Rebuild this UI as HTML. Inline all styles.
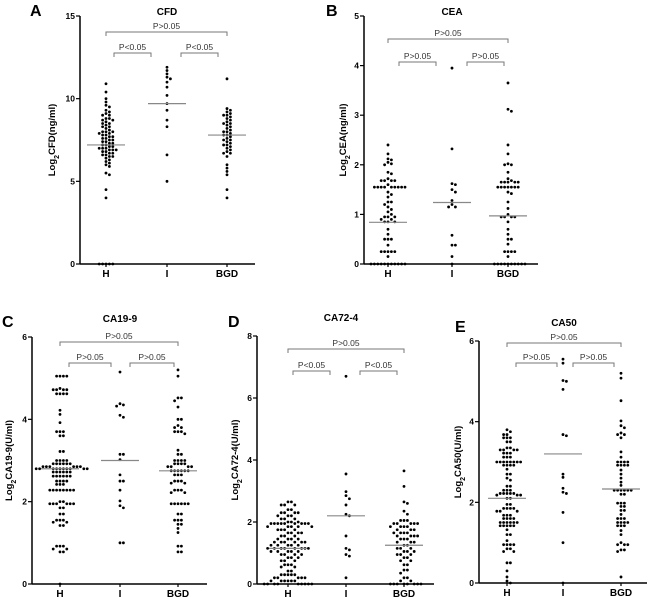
<!DOCTYPE html>
<html><head><meta charset="utf-8"><style>
html,body{margin:0;padding:0;background:#fff;}
svg{display:block;font-family:"Liberation Sans",Arial,sans-serif;}
</style></head><body>
<svg id="chart" width="650" height="597" viewBox="0 0 650 597" xmlns="http://www.w3.org/2000/svg"></svg>
<script>
const categories=["H","I","BGD"];
const panelLetters=["A","B","C","D","E"];
const panelTitles=["CFD","CEA","CA19-9","CA72-4","CA50"];
const yLabels=[["CFD","(ng/ml)"],["CEA","(ng/ml)"],["CA19-9","(U/ml)"],["CA72-4","(U/ml)"],["CA50","(U/ml)"]];
const yMaxes=[15,5,6,8,6];
const yStepsV=[5,1,2,2,2];
const pTop=["P>0.05","P>0.05","P>0.05","P>0.05","P>0.05"];
const pLeft=["P<0.05","P>0.05","P>0.05","P<0.05","P>0.05"];
const pRight=["P<0.05","P>0.05","P>0.05","P<0.05","P>0.05"];
const medians=[[7.2,9.7,7.8],[0.84,1.24,0.97],[2.8,3.0,2.75],[1.15,2.2,1.25],[2.1,3.2,2.33]];

const A_H=[10.9,10.4,10.0,9.8,9.6,9.5,9.3,9.2,9.1,9.0,9.0,8.8,8.8,8.7,8.7,8.6,8.5,8.5,8.4,8.3,8.3,8.2,8.1,8.0,8.0,8.0,7.9,7.9,7.8,7.8,7.7,7.7,7.6,7.6,7.5,7.5,7.4,7.4,7.3,7.3,7.2,7.2,7.1,7.1,7.0,7.0,7.0,6.9,6.9,6.9,6.8,6.8,6.7,6.7,6.6,6.6,6.5,6.5,6.4,6.3,6.2,6.1,6.0,5.9,5.5,5.4,4.5,4.0,0,0,0,0,0];
const A_I=[11.9,11.7,11.5,11.3,11.2,11.0,10.7,10.2,9.7,9.3,8.7,8.3,6.6,5.0];
const A_BGD=[11.2,9.4,9.3,9.2,9.1,9.0,9.0,8.9,8.8,8.7,8.6,8.5,8.5,8.4,8.3,8.2,8.1,8.0,8.0,7.9,7.8,7.8,7.7,7.6,7.5,7.5,7.4,7.3,7.2,7.2,7.1,7.0,6.9,6.8,6.7,6.7,6.5,6.0,5.8,5.6,5.4,4.5,4.0];

const B_H=[2.4,2.22,2.12,2.1,2.05,2.02,2.0,1.85,1.82,1.72,1.68,1.68,1.68,1.68,1.6,1.55,1.55,1.55,1.55,1.55,1.55,1.55,1.55,1.55,1.45,1.4,1.35,1.25,1.25,1.2,1.15,1.1,1.05,1.0,0.95,0.95,0.95,0.9,0.9,0.85,0.85,0.85,0.7,0.6,0.5,0.5,0.5,0.38,0.25,0.25,0.25,0.25,0.25,0.15,0,0,0,0,0,0,0,0,0,0,0];
const B_I=[3.95,2.32,1.62,1.6,1.5,1.45,1.28,1.2,1.15,1.15,0.58,0.38,0.38,0.15,0];
const B_BGD=[3.65,3.12,3.08,2.4,2.22,2.02,2.0,2.0,1.85,1.72,1.68,1.65,1.65,1.65,1.65,1.65,1.55,1.55,1.55,1.55,1.55,1.55,1.55,1.45,1.42,1.25,1.12,1.0,0.95,0.95,0.95,0.95,0.85,0.7,0.6,0.5,0.5,0.4,0.25,0.25,0.25,0.25,0.15,0,0,0,0,0,0,0,0,0,0];

const C_H=[5.05,5.05,5.05,5.05,4.75,4.72,4.72,4.72,4.72,4.62,4.62,4.62,4.62,4.22,4.12,3.92,3.7,3.7,3.7,3.6,3.6,3.22,3.22,3.0,3.0,3.0,3.0,2.92,2.92,2.92,2.92,2.92,2.92,2.85,2.85,2.85,2.85,2.85,2.85,2.8,2.8,2.8,2.8,2.8,2.8,2.8,2.8,2.8,2.8,2.72,2.72,2.72,2.72,2.72,2.72,2.62,2.62,2.62,2.62,2.62,2.62,2.5,2.5,2.5,2.5,2.42,2.42,2.42,2.28,2.28,2.28,2.28,2.28,2.28,2.28,2.28,2.0,2.0,1.95,1.95,1.95,1.95,1.95,1.95,1.85,1.85,1.7,1.7,1.55,1.55,1.55,1.5,1.5,1.42,1.42,0.92,0.92,0.92,0.85,0.85,0.78,0.78,0];
const C_I=[5.15,4.38,4.35,4.32,4.1,4.05,3.15,3.15,3.02,2.65,2.5,2.5,2.28,2.02,1.9,1.85,1.0,1.0];
const C_BGD=[5.2,5.05,4.52,4.52,4.45,4.3,4.0,4.0,3.85,3.8,3.8,3.7,3.7,3.7,3.65,3.25,3.15,3.15,3.0,3.0,3.0,3.0,2.92,2.92,2.92,2.92,2.85,2.85,2.85,2.85,2.75,2.75,2.75,2.75,2.75,2.75,2.65,2.65,2.65,2.5,2.5,2.5,2.45,2.45,2.28,2.28,2.28,2.22,2.22,1.95,1.95,1.95,1.95,1.95,1.95,1.7,1.7,1.55,1.55,1.55,1.45,1.45,1.35,1.25,0.92,0.92,0.78,0.78];

const D_H=[2.65,2.65,2.55,2.55,2.55,2.4,2.4,2.3,2.3,2.3,2.3,2.2,2.2,2.2,2.1,2.1,2.1,2.0,2.0,2.0,1.95,1.95,1.95,1.95,1.95,1.95,1.95,1.95,1.95,1.85,1.85,1.85,1.85,1.85,1.75,1.75,1.75,1.75,1.65,1.65,1.65,1.65,1.55,1.55,1.55,1.45,1.45,1.45,1.45,1.35,1.35,1.35,1.35,1.35,1.35,1.25,1.25,1.25,1.25,1.25,1.15,1.15,1.15,1.15,1.15,1.15,1.15,1.15,1.05,1.05,1.05,1.05,1.05,0.95,0.95,0.95,0.95,0.85,0.85,0.85,0.75,0.75,0.75,0.62,0.62,0.62,0.55,0.55,0.42,0.42,0.3,0.3,0.3,0.3,0.3,0.2,0.2,0.2,0.2,0.2,0.1,0.1,0.1,0.1,0.1,0.1,0,0,0,0,0,0,0,0,0];
const D_I=[6.7,3.55,2.98,2.85,2.75,2.55,2.25,2.2,1.55,1.15,1.1,0.95,0.9,0.2];
const D_BGD=[3.65,3.15,2.65,2.6,2.35,2.25,2.05,2.05,2.05,1.95,1.95,1.95,1.95,1.95,1.85,1.85,1.85,1.85,1.75,1.75,1.75,1.65,1.65,1.65,1.65,1.55,1.55,1.55,1.55,1.45,1.45,1.45,1.35,1.35,1.35,1.25,1.25,1.15,1.15,1.15,1.05,1.05,1.05,0.95,0.95,0.95,0.85,0.85,0.75,0.75,0.62,0.62,0.45,0.45,0.35,0.2,0.2,0.1,0.1,0,0,0,0,0,0,0,0];

const E_H=[3.8,3.75,3.68,3.68,3.6,3.6,3.6,3.5,3.5,3.35,3.35,3.3,3.3,3.3,3.3,3.22,3.22,3.22,3.12,3.12,3.12,3.0,3.0,3.0,3.0,3.0,3.0,3.0,3.0,2.92,2.92,2.92,2.92,2.82,2.7,2.7,2.6,2.55,2.4,2.4,2.3,2.3,2.3,2.22,2.22,2.22,2.22,2.22,2.18,2.18,2.18,2.1,2.1,1.95,1.95,1.85,1.85,1.85,1.85,1.78,1.78,1.78,1.68,1.68,1.68,1.6,1.6,1.6,1.6,1.5,1.5,1.5,1.5,1.5,1.5,1.42,1.42,1.42,1.42,1.42,1.32,1.2,1.2,1.05,0.95,0.95,0.95,0.95,0.85,0.85,0.78,0.78,0.5,0.5,0.3,0.15,0.05,0];
const E_I=[5.55,5.45,5.02,5.0,4.8,3.68,3.65,2.7,2.62,2.35,2.25,2.22,1.75,1.0,0];
const E_BGD=[5.2,5.08,4.52,4.02,3.9,3.85,3.72,3.68,3.68,3.6,3.25,3.12,3.0,3.0,3.0,3.0,2.92,2.92,2.92,2.92,2.8,2.7,2.6,2.5,2.42,2.3,2.3,2.3,2.3,2.3,2.3,2.2,2.2,1.98,1.98,1.98,1.9,1.9,1.8,1.8,1.7,1.6,1.6,1.6,1.5,1.5,1.5,1.5,1.42,1.42,1.42,1.3,1.2,1.0,0.95,0.95,0.95,0.82,0.82,0.78,0.15];

const groupData=[[A_H,A_I,A_BGD],[B_H,B_I,B_BGD],[C_H,C_I,C_BGD],[D_H,D_I,D_BGD],[E_H,E_I,E_BGD]];

const layout=[
 {ax:80,y0:264,yTop:16,xEnd:255,cx:[106,167,227],title:[167,15],letter:[30,16],yl:55,bt:32,bi:53,bl:[114,151],br:[181,218],med:19},
 {ax:364,y0:264,yTop:16,xEnd:538,cx:[388,452,508],title:[452,15],letter:[326,16],yl:346,bt:39,bi:62,bl:[399,436],br:[467,504],med:19},
 {ax:32,y0:584,yTop:337,xEnd:207,cx:[60,120,178],title:[120,322],letter:[2,327],yl:12,bt:342,bi:363,bl:[69,111],br:[130,174],med:19},
 {ax:257,y0:584,yTop:336,xEnd:434,cx:[288,346,404],title:[341,321],letter:[228,327],yl:238,bt:349,bi:371,bl:[293,330],br:[360,397],med:19},
 {ax:479,y0:583,yTop:341,xEnd:647,cx:[507,563,621],title:[564,326],letter:[455,332],yl:461,bt:343,bi:363,bl:[516,557],br:[573,614],med:19}
];
const NS="http://www.w3.org/2000/svg";
const svg=document.getElementById('chart');
function mk(tag,attrs,parent){const e=document.createElementNS(NS,tag);for(const k in attrs)e.setAttribute(k,attrs[k]);(parent||svg).appendChild(e);return e;}

layout.forEach((L,p)=>{
  const g=mk('g',{});
  
  
  const yScale=v=>L.y0-(v/yMaxes[p])*(L.y0-L.yTop);
  const lt=mk('text',{x:L.letter[0],y:L.letter[1],'font-size':16,'font-weight':'bold'},g);lt.textContent=panelLetters[p];
  
  
  const tt=mk('text',{x:L.title[0],y:L.title[1],'font-size':10,'font-weight':'bold','text-anchor':'middle'},g);tt.textContent=panelTitles[p];
  
  
  const cy=(L.y0+L.yTop)/2;
  const yl=mk('text',{x:0,y:0,'font-size':9.5,'font-weight':'bold','text-anchor':'middle',transform:`translate(${L.yl},${cy}) rotate(-90)`},g);
  
  
  const t1=mk('tspan',{},yl);t1.textContent='Log';
  const t2=mk('tspan',{'baseline-shift':'sub','font-size':7},yl);t2.textContent='2';
  const t3=mk('tspan',{},yl);t3.textContent=yLabels[p][0]+yLabels[p][1];
  const ya=mk('line',{x1:L.ax,y1:L.yTop,x2:L.ax,y2:L.y0,stroke:'#000','stroke-width':1.5},g);
  
  
  const xa=mk('line',{x1:L.ax,y1:L.y0,x2:L.xEnd,y2:L.y0,stroke:'#000','stroke-width':1.5},g);
  
  
  for(let v=0;v<=yMaxes[p]+1e-9;v+=yStepsV[p]){
    const y=yScale(v);
    mk('line',{x1:L.ax-4,y1:y,x2:L.ax,y2:y,stroke:'#000','stroke-width':1.2},g);
    const t=mk('text',{x:L.ax-5,y:y+3,'font-size':8.5,'font-weight':'bold','text-anchor':'end'},g);t.textContent=v;
    
    
  }
  categories.forEach((c,i)=>{
    mk('line',{x1:L.cx[i],y1:L.y0,x2:L.cx[i],y2:L.y0+3,stroke:'#000','stroke-width':1.2},g);
    const t=mk('text',{x:L.cx[i],y:L.y0+13,'font-size':10,'font-weight':'bold','text-anchor':'middle'},g);t.textContent=c;
    
    
  });
  function bracket(x1,x2,y,label,name){
    const b=mk('path',{d:`M${x1},${y+4}V${y}H${x2}V${y+4}`,fill:'none',stroke:'#777','stroke-width':1},g);
    
    
    const t=mk('text',{x:(x1+x2)/2,y:y-3,'font-size':8.5,'text-anchor':'middle',fill:'#333'},g);t.textContent=label;
    
    
  }
  bracket(L.cx[0],L.cx[2],L.bt,pTop[p],'bracket-h-bgd');
  bracket(L.bl[0],L.bl[1],L.bi,pLeft[p],'bracket-h-i');
  bracket(L.br[0],L.br[1],L.bi,pRight[p],'bracket-i-bgd');
  groupData[p].forEach((vals,i)=>{
    const placed=[];
    const sorted=vals.slice().sort((a,b)=>b-a);
    sorted.forEach(v=>{
      const y=yScale(v);
      let x=L.cx[i];
      for(let k=0;k<60;k++){
        const off=(k===0?0:(k%2?1:-1)*Math.ceil(k/2)*3.4);
        const cx=L.cx[i]+off;
        if(!placed.some(q=>Math.hypot(q[0]-cx,q[1]-y)<3.2)){x=cx;break;}
      }
      placed.push([x,y]);
      const d=mk('circle',{cx:x,cy:y,r:1.4,fill:'#000'},g);
      
      
    });
    const m=yScale(medians[p][i]);
    const ml=mk('line',{x1:L.cx[i]-L.med,y1:m,x2:L.cx[i]+L.med,y2:m,stroke:'#888','stroke-width':1.2},g);
    
    
  });
});
</script>
</body></html>
